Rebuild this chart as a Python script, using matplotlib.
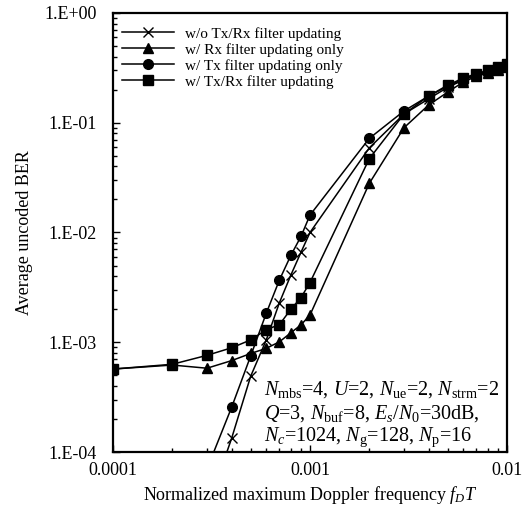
import numpy as np
import matplotlib
matplotlib.use('Agg')
from matplotlib import pyplot as plt
from matplotlib.ticker import LogLocator, FuncFormatter, NullFormatter

plt.rcParams['font.family'] = ['Liberation Serif', 'DejaVu Serif']
plt.rcParams['mathtext.fontset'] = 'custom'
plt.rcParams['mathtext.rm'] = 'Liberation Serif'
plt.rcParams['mathtext.it'] = 'Liberation Serif:italic'

# normalized Doppler frequency
fdT = [1e-4, 2e-4, 3e-4, 4e-4, 5e-4, 6e-4, 7e-4, 8e-4, 9e-4, 1e-3,
       2e-3, 3e-3, 4e-3, 5e-3, 6e-3, 7e-3, 8e-3, 9e-3, 1e-2]

# w/o Tx/Rx filter updating (starts at 3e-4)
ber_none = [3e-5, 1.33e-4, 4.9e-4, 1.05e-3, 2.3e-3, 4.1e-3, 6.6e-3, 1.0e-2,
            5.9e-2, 0.12, 0.165, 0.21, 0.245, 0.27, 0.29, 0.31, 0.33]
# w/ Rx filter updating only
ber_rx = [5.7e-4, 6.2e-4, 5.8e-4, 6.8e-4, 7.9e-4, 8.8e-4, 1.01e-3, 1.22e-3,
          1.44e-3, 1.77e-3, 2.8e-2, 9.0e-2, 0.145, 0.19, 0.235, 0.265, 0.285,
          0.305, 0.325]
# w/ Tx filter updating only (starts at 3e-4)
ber_tx = [7e-5, 2.55e-4, 7.5e-4, 1.84e-3, 3.7e-3, 6.2e-3, 9.2e-3, 1.44e-2,
          7.2e-2, 0.128, 0.175, 0.215, 0.25, 0.275, 0.295, 0.315, 0.335]
# w/ Tx/Rx filter updating
ber_txrx = [5.7e-4, 6.3e-4, 7.6e-4, 8.9e-4, 1.05e-3, 1.3e-3, 1.45e-3, 2.0e-3,
            2.55e-3, 3.5e-3, 4.7e-2, 0.12, 0.175, 0.22, 0.255, 0.28, 0.3,
            0.32, 0.34]

labels = ['w/o Tx/Rx filter updating', 'w/ Rx filter updating only',
          'w/ Tx filter updating only', 'w/ Tx/Rx filter updating']

fig = plt.figure(figsize=(5.25, 5.17), dpi=100)
ax = fig.add_axes([0.2152, 0.1257, 0.7505, 0.8492])

kw = dict(color='black', lw=1.1, ms=7)
ax.plot(fdT[2:], ber_none, marker='x', mew=1.0, label=labels[0], **kw)
ax.plot(fdT, ber_rx, marker='^', label=labels[1], **kw)
ax.plot(fdT[2:], ber_tx, marker='o', label=labels[2], **kw)
ax.plot(fdT, ber_txrx, marker='s', label=labels[3], **kw)

ax.set_xscale('log')
ax.set_yscale('log')
ax.set_xlim(1e-4, 1e-2)
ax.set_ylim(1e-4, 1)

ax.xaxis.set_major_locator(LogLocator(base=10, numticks=10))
ax.xaxis.set_minor_locator(LogLocator(base=10, subs=np.arange(2, 10), numticks=20))
ax.yaxis.set_major_locator(LogLocator(base=10, numticks=10))
ax.yaxis.set_minor_locator(LogLocator(base=10, subs=np.arange(2, 10), numticks=20))
ax.xaxis.set_major_formatter(FuncFormatter(lambda v, p: {1e-4: '0.0001', 1e-3: '0.001', 1e-2: '0.01'}.get(round(v, 6), '')))
ax.yaxis.set_major_formatter(FuncFormatter(lambda v, p: '1.E%+03d' % int(round(np.log10(v)))))
ax.xaxis.set_minor_formatter(NullFormatter())
ax.yaxis.set_minor_formatter(NullFormatter())

ax.tick_params(which='both', direction='in', top=False, right=False,
               labelsize=13, width=1.0)
ax.tick_params(axis='y', pad=12)
ax.tick_params(axis='x', pad=7)
ax.tick_params(which='major', length=5)
ax.tick_params(which='minor', length=3)
for s in ax.spines.values():
    s.set_linewidth(1.6)

ax.set_xlabel('Normalized maximum Doppler frequency $f_D T$', fontsize=13, labelpad=4)
ax.set_ylabel('Average uncoded BER', fontsize=13, labelpad=8)

ax.legend(loc='upper left', bbox_to_anchor=(-0.012, 1.0), frameon=False,
          fontsize=11, handlelength=3.4, handletextpad=0.7, labelspacing=0.15,
          borderaxespad=0.6, borderpad=0.3)

ann = ['$N_{\\rm mbs}$=4, $U$=2, $N_{\\rm ue}$=2, $N_{\\rm strm}$=2',
       '$Q$=3, $N_{\\rm buf}$=8, $E_s/N_0$=30dB,',
       '$N_c$=1024, $N_{\\rm g}$=128, $N_{\\rm p}$=16']
for i, t in enumerate(ann):
    ax.text(0.384, 0.143 - i * 0.055, t, transform=ax.transAxes, fontsize=14.5,
            ha='left', va='center')

fig.savefig('out.png', dpi=100)
